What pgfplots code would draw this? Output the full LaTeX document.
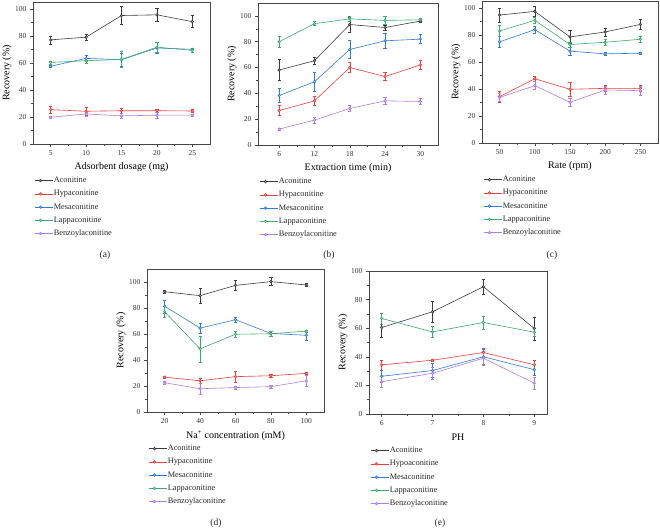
\documentclass[border=0pt]{standalone}
\usepackage{pgfplots}
\pgfplotsset{compat=1.18}
\usepackage{fontspec}
\setmainfont{Liberation Serif}
\definecolor{cA}{HTML}{3C3C3C}
\definecolor{cH}{HTML}{E8413C}
\definecolor{cM}{HTML}{2F7BD9}
\definecolor{cL}{HTML}{3BAA6C}
\definecolor{cB}{HTML}{B07CE0}
\pgfplotsset{
  myax/.style={
    scale only axis,
    height=142pt,
    axis line style={gray!55!black, line width=0.6pt},
    tick align=outside, tick pos=left,
    major tick length=3pt, minor tick length=1.8pt,
    every tick/.style={gray!55!black, line width=0.5pt},
    minor x tick num=1, minor y tick num=1,
    ymin=0, ytick={0,20,...,100},
    /pgf/number format/assume math mode=true,
    tick label style={font=\fontsize{7.5}{9}\selectfont, text=black!80},
    label style={font=\fontsize{8.2}{9.5}\selectfont, text=black!85},
    ylabel={Recovery (\%)},
    every axis y label/.style={at={(axis description cs:0,0.5)}, xshift=-26pt, rotate=90, anchor=center},
    every axis x label/.style={at={(axis description cs:0.5,0)}, yshift=-23.5pt, anchor=center},
    legend style={at={(axis description cs:0,0)}, anchor=north west, xshift=0pt, yshift=-31pt,
      draw=none, fill=none, font=\fontsize{8.3}{9}\selectfont, row sep=4.2pt, inner sep=1pt,
      nodes={inner sep=1pt, text=black!85}},
    legend cell align=left,
    legend image code/.code={\draw[mark repeat=2,mark phase=2,##1] plot coordinates {(0pt,0pt) (6pt,0pt) (12pt,0pt)};\path (12pt,0pt) -- (18pt,0pt);},
    every axis plot/.append style={line width=0.6pt, mark=*, mark size=1.3pt,
      error bars/y dir=both, error bars/y explicit,
      error bars/error bar style={line width=0.5pt},
      error bars/error mark options={rotate=90, mark size=1.6pt, line width=0.5pt}},
  },
  sA/.style={color=cA, mark options={fill=cA!50!white}},
  sH/.style={color=cH, mark options={fill=cH!50!white}},
  sM/.style={color=cM, mark options={fill=cM!50!white}},
  sL/.style={color=cL, mark options={fill=cL!50!white}},
  sB/.style={color=cB, mark options={fill=cB!50!white}},
}
\begin{document}
\begin{tikzpicture}
\useasboundingbox (0,0) rectangle (660pt,529pt);
% (a)
\begin{axis}[myax, at={(33pt,385pt)}, anchor=south west, width=177pt,
  xmin=2.5, xmax=27.5, ymax=105, xtick={5,10,15,20,25},
  xlabel={Adsorbent dosage (mg)}]
\addplot[sA] coordinates {(5,77) +- (0,3) (10,79) +- (0,2) (15,95) +- (0,6.5) (20,95.5) +- (0,5) (25,90.5) +- (0,4.5)};
\addplot[sH] coordinates {(5,25.4) +- (0,2.5) (10,24.2) +- (0,3) (15,24.6) +- (0,2) (20,24.6) +- (0,1) (25,24.4) +- (0,1)};
\addplot[sM] coordinates {(5,57.5) +- (0,1) (10,63.3) +- (0,2) (15,62.3) +- (0,5) (20,71) +- (0,4) (25,70) +- (0,1)};
\addplot[sL] coordinates {(5,60.3) +- (0,1) (10,61.6) +- (0,2) (15,62.5) +- (0,6) (20,71.6) +- (0,3.5) (25,69.2) +- (0,1.5)};
\addplot[sB] coordinates {(5,19.8) +- (0,1) (10,22.2) +- (0,1.5) (15,20.8) +- (0,2) (20,21.3) +- (0,2.5) (25,21.3) +- (0,1)};
\legend{Aconitine,Hypaconitine,Mesaconitine,Lappaconitine,Benzoylaconitine}
\end{axis}
% (b)
\begin{axis}[myax, at={(258pt,384pt)}, anchor=south west, width=180pt,
  xmin=2.4, xmax=33, ymax=110, xtick={6,12,18,24,30},
  xlabel={Extraction time (min)}]
\addplot[sA] coordinates {(6,58.1) +- (0,8) (12,65.3) +- (0,3) (18,93.3) +- (0,6) (24,91) +- (0,2) (30,96) +- (0,1)};
\addplot[sH] coordinates {(6,26.7) +- (0,4) (12,34.2) +- (0,3.5) (18,60) +- (0,4) (24,53) +- (0,3) (30,62) +- (0,3.5)};
\addplot[sM] coordinates {(6,38.3) +- (0,5.5) (12,49) +- (0,7) (18,74) +- (0,7) (24,80.7) +- (0,6) (30,82) +- (0,3.5)};
\addplot[sL] coordinates {(6,80) +- (0,4) (12,94) +- (0,1.5) (18,97.7) +- (0,2) (24,96.5) +- (0,3) (30,97) +- (0,1)};
\addplot[sB] coordinates {(6,12.3) +- (0,1) (12,19.3) +- (0,2.5) (18,28.3) +- (0,2.5) (24,34.2) +- (0,2.5) (30,33.7) +- (0,2.5)};
\legend{Aconitine,Hypaconitine,Mesaconitine,Lappaconitine,Benzoylaconitine}
\end{axis}
% (c)
\begin{axis}[myax, at={(482pt,386pt)}, anchor=south west, width=176pt,
  xmin=25, xmax=275, ymax=105, xtick={50,100,150,200,250},
  xlabel={Rate (rpm)}]
\addplot[sA] coordinates {(50,94.6) +- (0,5) (100,97.3) +- (0,3.5) (150,78.4) +- (0,5) (200,82.1) +- (0,3) (250,87.7) +- (0,3.5)};
\addplot[sH] coordinates {(50,34.3) +- (0,4) (100,47.5) +- (0,1.5) (150,39.7) +- (0,5) (200,40.4) +- (0,2) (250,40.4) +- (0,2.5)};
\addplot[sM] coordinates {(50,74.8) +- (0,4) (100,83.8) +- (0,2.5) (150,67.9) +- (0,3) (200,65.9) +- (0,1) (250,66.4) +- (0,1)};
\addplot[sL] coordinates {(50,82.8) +- (0,4) (100,90.7) +- (0,2) (150,72.8) +- (0,2) (200,74.5) +- (0,2) (250,76.7) +- (0,2.5)};
\addplot[sB] coordinates {(50,33.6) +- (0,3) (100,42.4) +- (0,3) (150,30.1) +- (0,3) (200,39.2) +- (0,3) (250,38.7) +- (0,3.5)};
\legend{Aconitine,Hypaconitine,Mesaconitine,Lappaconitine,Benzoylaconitine}
\end{axis}
% (d)
\begin{axis}[myax, at={(147pt,117pt)}, anchor=south west, width=177pt, height=143pt,
  xmin=10, xmax=110, ymax=110, xtick={20,40,60,80,100},
  xlabel={Na\textsuperscript{+} concentration (mM)}]
\addplot[sA] coordinates {(20,92.5) +- (0,1) (40,89.5) +- (0,6) (60,97.4) +- (0,4) (80,100.3) +- (0,3) (100,97.7) +- (0,1)};
\addplot[sH] coordinates {(20,26.8) +- (0,1) (40,24) +- (0,2) (60,27.2) +- (0,4) (80,27.9) +- (0,1) (100,29.7) +- (0,1)};
\addplot[sM] coordinates {(20,81.3) +- (0,5) (40,64.5) +- (0,4) (60,71) +- (0,2) (80,60.4) +- (0,2) (100,59) +- (0,4)};
\addplot[sL] coordinates {(20,77) +- (0,4) (40,48.6) +- (0,10) (60,59.8) +- (0,2) (80,60.2) +- (0,2) (100,62.2) +- (0,1)};
\addplot[sB] coordinates {(20,22.5) +- (0,1.5) (40,17.9) +- (0,4) (60,18.8) +- (0,1) (80,19.5) +- (0,1) (100,24) +- (0,4)};
\legend{Aconitine,Hypaconitine,Mesaconitine,Lappaconitine,Benzoylaconitine}
\end{axis}
% (e)
\begin{axis}[myax, at={(369pt,115pt)}, anchor=south west, width=178pt, height=143pt,
  xmin=5.75, xmax=9.25, ymax=100, xtick={6,7,8,9},
  xlabel={PH}]
\addplot[sA] coordinates {(6,60.5) +- (0,6.5) (7,71.5) +- (0,7.5) (8,89) +- (0,5.5) (9,59.8) +- (0,8)};
\addplot[sH] coordinates {(6,34.4) +- (0,3.5) (7,37.6) +- (0,1) (8,43) +- (0,3) (9,34.4) +- (0,3)};
\addplot[sM] coordinates {(6,26.4) +- (0,4) (7,30.4) +- (0,5) (8,40) +- (0,5) (9,31) +- (0,4)};
\addplot[sL] coordinates {(6,66.8) +- (0,4) (7,57.4) +- (0,4) (8,64) +- (0,4.5) (9,57.2) +- (0,3)};
\addplot[sB] coordinates {(6,22.6) +- (0,4) (7,28.5) +- (0,4) (8,39) +- (0,5) (9,21.6) +- (0,4)};
\legend{Aconitine,Hypoaconitine,Mesaconitine,Lappaconitine,Benzoylaconitine}
\end{axis}
\begin{scope}[every node/.style={font=\fontsize{9.5}{11}\selectfont, text=black!85}]
\node at (105pt,274pt) {(a)};
\node at (329pt,274pt) {(b)};
\node at (552pt,274pt) {(c)};
\node at (216pt,6pt) {(d)};
\node at (440pt,6pt) {(e)};
\end{scope}
\end{tikzpicture}
\end{document}
